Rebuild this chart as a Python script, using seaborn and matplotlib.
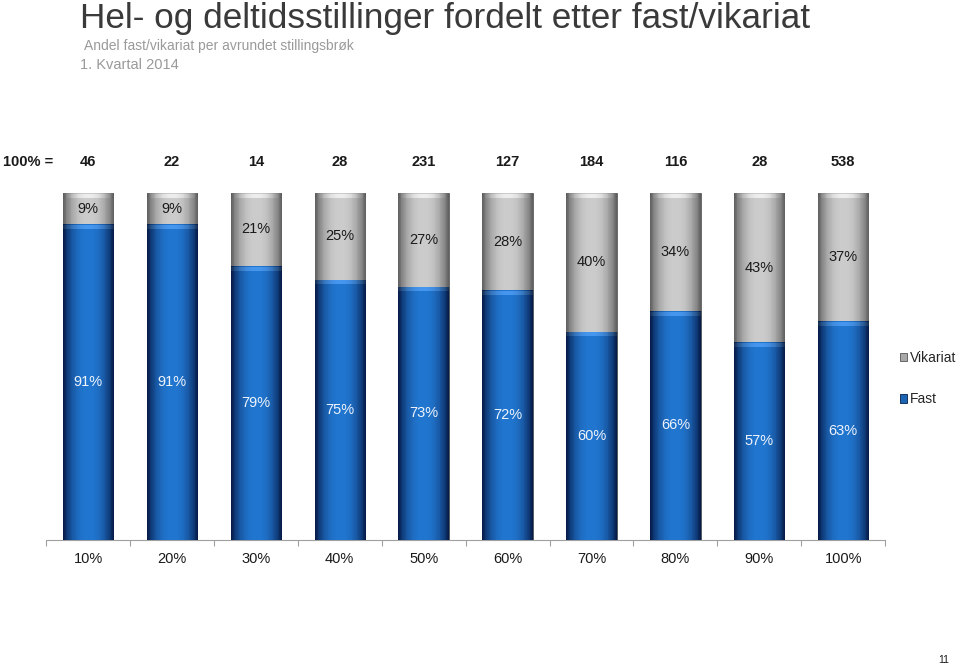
import numpy as np
import pandas as pd
import matplotlib
matplotlib.use("Agg")
import matplotlib.pyplot as plt
import seaborn as sns
from matplotlib.patches import Patch
from matplotlib.colors import to_rgb

# ---------------------------------------------------------
# DATA
# ---------------------------------------------------------
categories = ["10%", "20%", "30%", "40%", "50%", "60%", "70%", "80%", "90%", "100%"]
n_total    = [46, 22, 14, 28, 231, 127, 184, 116, 28, 538]
fast       = [91, 91, 79, 75, 73, 72, 60, 66, 57, 63]
vikariat   = [9, 9, 21, 25, 27, 28, 40, 34, 43, 37]

df = pd.DataFrame({"brok": categories, "fast": fast, "vikariat": vikariat})
df["total"] = df["fast"] + df["vikariat"]

# ---------------------------------------------------------
# FIGURE
# ---------------------------------------------------------
sns.set_theme(style="white")
plt.rcParams["font.family"] = ["Liberation Sans", "DejaVu Sans"]

fig = plt.figure(figsize=(9.6, 6.68), dpi=100)
ax = fig.add_axes([0.048, 0.192, 0.874, 0.519])

sns.barplot(data=df, x="brok", y="total", color="#a8a8a8", width=0.6,
            saturation=1, ax=ax, zorder=2)
sns.barplot(data=df, x="brok", y="fast", color="#1c64b4", width=0.6,
            saturation=1, ax=ax, zorder=3)


def glossy(patch, center, edge, cap, px_per_unit=3.47):
    # cylinder-like gradient inside the bar patch, light band at its top
    x0, y0 = patch.get_x(), patch.get_y()
    w, h = patch.get_width(), patch.get_height()
    t = np.linspace(-1, 1, 60)
    prof = 1 - np.abs(t) ** 2.4
    c, e = np.array(to_rgb(center)), np.array(to_rgb(edge))
    row = e + (c - e) * prof[:, None]
    rows = max(int(round(h * px_per_unit)), 4)
    img = np.repeat(row[None, :, :], rows, axis=0)
    k = np.array(to_rgb(cap))
    band = row * 0.35 + k * 0.65 * (0.35 + 0.65 * prof[:, None])
    img[1:5] = np.clip(band, 0, 1)
    im = ax.imshow(img, extent=(x0, x0 + w, y0, y0 + h), origin="upper",
                   aspect="auto", zorder=patch.get_zorder() + 0.1,
                   interpolation="nearest")
    im.set_clip_path(patch)
    patch.set_edgecolor("#5a5a5a")
    patch.set_linewidth(0.6)


n = len(categories)
grey_patches = ax.patches[:n]
blue_patches = ax.patches[n:]
for p in grey_patches:
    glossy(p, "#cccccc", "#626262", "#ffffff")
for p in blue_patches:
    glossy(p, "#2176d0", "#061c4a", "#5aa8ff")
ax.set_xlim(-0.5, n - 0.5)
ax.set_ylim(0, 100)

# segment labels
for i in range(n):
    ax.text(i, fast[i] / 2, f"{fast[i]}%", ha="center", va="center",
            color="#eef3fa", fontsize=10.5, zorder=6)
    ax.text(i, fast[i] + vikariat[i] / 2, f"{vikariat[i]}%", ha="center",
            va="center", color="#1a1a1a", fontsize=10.5, zorder=6)
    ax.text(i, 109, str(n_total[i]), ha="center", va="center",
            fontsize=10.5, fontweight="bold", color="#1a1a1a", clip_on=False)
fig.text(0.003, 0.757, "100% =", ha="left", va="center", fontsize=10.5,
         fontweight="bold", color="#1a1a1a")

# axes styling
sns.despine(ax=ax, left=True, top=True, right=True)
ax.spines["bottom"].set_color("#a0a0a0")
ax.spines["bottom"].set_linewidth(0.8)
ax.set_yticks([])
ax.set_xlabel("")
ax.set_ylabel("")
ax.set_xticks(range(n))
ax.set_xticklabels(categories, fontsize=10.5, color="#1a1a1a")
ax.set_xticks(np.arange(-0.5, n, 1), minor=True)
ax.tick_params(axis="x", which="major", length=0, pad=9)
ax.tick_params(axis="x", which="minor", length=4, color="#a0a0a0", width=0.8,
               bottom=True)

# legend
handles = [Patch(facecolor="#a8a8a8", edgecolor="#555555", linewidth=0.6),
           Patch(facecolor="#1c64b4", edgecolor="#061c4a", linewidth=0.6)]
fig.legend(handles, ["Vikariat", "Fast"], loc="upper left",
           bbox_to_anchor=(0.937, 0.475), frameon=False, fontsize=10,
           handlelength=0.55, handleheight=0.55, handletextpad=0.2,
           labelspacing=2.0, borderpad=0, borderaxespad=0)

# titles
fig.text(0.083, 0.972, "Hel- og deltidsstillinger fordelt etter fast/vikariat",
         fontsize=25.3, color="#3a3a3a", va="center", ha="left")
fig.text(0.088, 0.931, "Andel fast/vikariat per avrundet stillingsbrøk",
         fontsize=10, color="#9a9a9a", va="center", ha="left")
fig.text(0.083, 0.903, "1. Kvartal 2014", fontsize=10.5, color="#9a9a9a",
         va="center", ha="left")
fig.text(0.983, 0.012, "11", fontsize=7.5, color="#1a1a1a", ha="center", va="center")

fig.savefig("out.png", dpi=100)
